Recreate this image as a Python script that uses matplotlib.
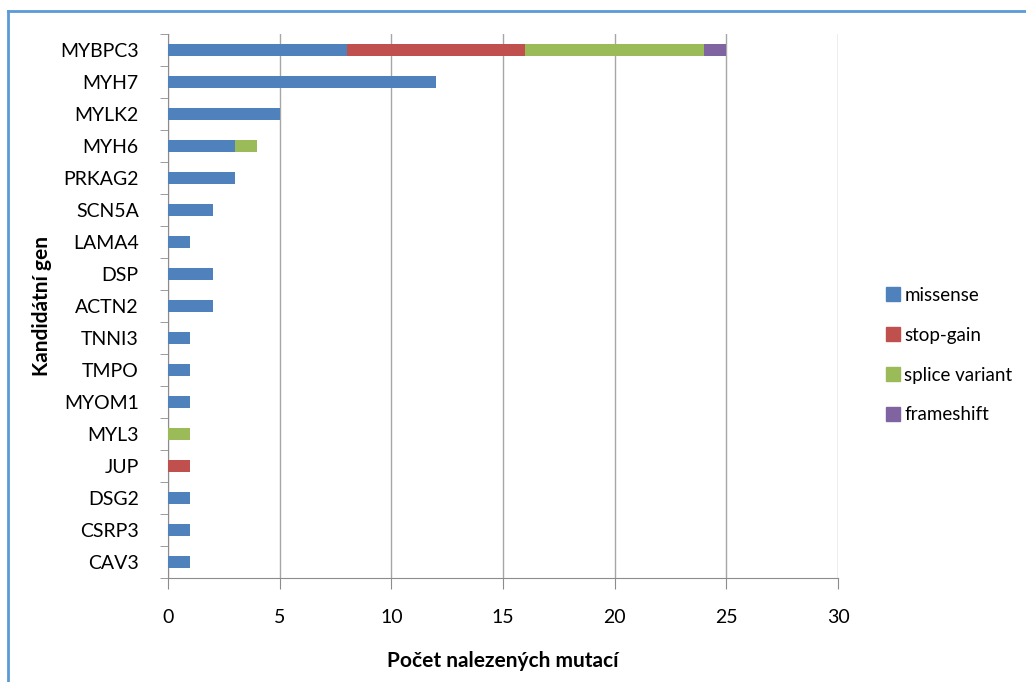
import numpy as np
import matplotlib.pyplot as plt
from matplotlib.lines import Line2D

plt.rcParams['font.family'] = ['Lato', 'DejaVu Sans']

# Počty mutací podle genu a typu
geny = ['MYBPC3', 'MYH7', 'MYLK2', 'MYH6', 'PRKAG2', 'SCN5A', 'LAMA4', 'DSP',
        'ACTN2', 'TNNI3', 'TMPO', 'MYOM1', 'MYL3', 'JUP', 'DSG2', 'CSRP3', 'CAV3']
missense = [8, 12, 5, 3, 3, 2, 1, 2, 2, 1, 1, 1, 0, 0, 1, 1, 1]
stop_gain = [8, 0, 0, 0, 0, 0, 0, 0, 0, 0, 0, 0, 0, 1, 0, 0, 0]
splice = [8, 0, 0, 1, 0, 0, 0, 0, 0, 0, 0, 0, 1, 0, 0, 0, 0]
frameshift = [1, 0, 0, 0, 0, 0, 0, 0, 0, 0, 0, 0, 0, 0, 0, 0, 0]

serie = [('missense', missense, '#4F81BD'),
         ('stop-gain', stop_gain, '#C0504D'),
         ('splice variant', splice, '#9BBB59'),
         ('frameshift', frameshift, '#8064A2')]

fig = plt.figure(figsize=(10.26, 6.82), dpi=100)
ax = fig.add_axes([168/1026, 1-578/682, 670/1026, 544/682])

y = np.arange(len(geny))[::-1]
left = np.zeros(len(geny))
for nazev, hodnoty, barva in serie:
    h = np.array(hodnoty, dtype=float)
    ax.barh(y, h, left=left, height=0.4, color=barva, label=nazev, zorder=3)
    left += h

ax.set_xlim(0, 30)
ax.set_ylim(-0.5, len(geny)-0.5)
ax.set_xticks(range(0, 31, 5))
ax.set_yticks(y)
ax.set_yticklabels(geny)
ax.set_yticks(np.arange(-0.5, len(geny), 1), minor=True)

seda = '#8c8c8c'
ax.grid(axis='x', color='#a6a6a6', lw=1, zorder=0)
for s in ['top', 'right']:
    ax.spines[s].set_visible(False)
for s in ['left', 'bottom']:
    ax.spines[s].set_color(seda)
ax.tick_params(axis='y', which='major', length=0, pad=21, labelsize=14)
ax.tick_params(axis='y', which='minor', length=6, color=seda)
ax.tick_params(axis='x', length=8, color=seda, pad=14, labelsize=14)

ax.set_xlabel('Počet nalezených mutací', fontsize=15, fontweight='bold')
ax.set_ylabel('Kandidátní gen', fontsize=15, fontweight='bold')
ax.xaxis.set_label_coords(0.5, -(651-578)/544)
ax.yaxis.set_label_coords(-(168-52)/670, 0.5)

handles = [Line2D([], [], marker='s', ls='none', markersize=10, color=b) for _, _, b in serie]
fig.legend(handles, [n for n, _, _ in serie], loc='upper left',
           bbox_to_anchor=(865/1026, 1-270/682), frameon=False, fontsize=13.5,
           labelspacing=1.22, handletextpad=0.0, handlelength=1.2)

# modrý rámeček grafu
fig.add_artist(Line2D([8/1026, 1], [1-11/682, 1-11/682], color='#5B9BD5', lw=2))
fig.add_artist(Line2D([8/1026, 8/1026], [0, 1-11/682], color='#5B9BD5', lw=2))

fig.savefig('out.png', dpi=100)
